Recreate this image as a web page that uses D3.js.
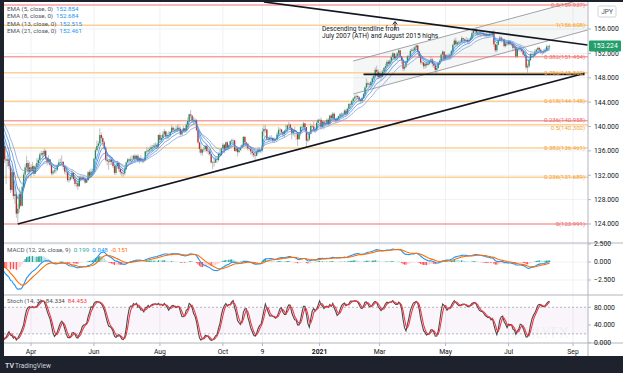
<!DOCTYPE html>
<html lang="en">
<head>
<meta charset="UTF-8">
<script src="https://d3js.org/d3.v7.min.js"></script>
<title>GBP/JPY daily</title>
<style>
  body { margin:0; background:#1e222d; }
  svg { display:block; font-family: Roboto, "Open Sans", sans-serif; }
</style>
</head>
<body>
<svg id="chart" width="623" height="373"></svg>
<script>
// daily bars, one per weekday starting here
const startDate = "2020-02-10";

const closes = [
  142.0,142.2,142.6,143.0,142.9, 142.7,142.3,143.5,144.6,144.7, 142.8,142.2,142.5,141.3,139.4,
  138.2,138.0,137.9,136.8,134.6, 134.4,134.6,133.5,129.6,132.5, 128.6,128.9,125.7,126.5,128.9,
  127.0,130.1,132.1,133.3,134.0, 132.6,133.3,132.7,133.5,132.3,
  133.3,134.0,134.5,135.4,135.6, 135.4,136.0,134.8,134.2,134.6, 133.7,132.3,132.6,132.8,132.9,
  133.6,134.1,134.1,134.2,133.4,
  132.6,132.5,131.2,131.3,131.7, 132.4,131.4,130.6,130.7,130.2, 131.6,131.4,131.6,131.4,130.8,
  131.2,132.5,131.8,132.6,132.6,
  134.7,136.1,136.8,137.2,138.6, 138.1,137.4,136.5,134.5,134.3, 134.2,134.6,134.2,133.5,132.4,
  133.5,134.0,133.0,132.5,132.3, 132.3,133.0,134.1,134.6,134.4,
  134.6,134.7,135.2,134.7,135.2, 134.4,134.8,134.4,134.4,134.4, 135.9,135.9,136.1,136.3,136.6,
  136.6,136.9,137.0,136.7,138.6,
  137.8,138.1,138.7,139.2,138.4, 138.6,138.6,139.1,139.8,139.4, 139.4,139.6,139.8,139.6,138.7,
  139.2,139.7,139.3,140.3,140.9, 142.0,141.8,141.0,141.0,141.0,
  139.4,137.4,136.3,135.7,136.2, 136.3,136.8,136.0,135.9,135.5, 134.1,134.2,134.1,134.6,134.5,
  135.5,135.3,136.4,137.0,136.2,
  137.4,136.5,136.9,137.6,137.7, 137.7,136.0,136.4,135.8,136.1, 136.5,136.9,138.3,137.4,137.2,
  136.4,136.3,135.9,135.6,135.3,
  135.2,135.8,136.2,136.0,136.1, 139.2,139.6,139.5,138.0,137.9, 138.1,138.1,137.7,137.8,137.9,
  138.7,139.4,139.5,139.1,138.8, 139.3,139.5,140.2,140.3,139.8,
  138.9,139.4,139.2,139.1,137.9, 138.8,139.9,139.9,140.5,139.9, 137.7,137.9,138.8,140.1,140.0,
  139.5,139.4,140.6,141.1,141.1,
  139.9,140.8,140.5,140.5,141.1, 140.4,141.8,141.4,142.1,141.2, 141.0,141.3,141.7,142.0,142.1,
  142.0,142.6,142.1,142.9,143.7,
  143.6,144.2,144.6,144.9,145.0, 144.8,144.4,144.2,144.7,145.3, 146.4,147.1,146.9,146.8,147.3,
  147.9,148.3,149.3,149.0,148.1,
  148.7,148.2,149.0,149.6,149.9, 150.6,150.3,150.8,151.4,152.0, 151.2,151.5,152.0,152.5,151.5,
  150.9,149.5,149.8,150.5,151.5, 151.5,152.4,152.6,152.5,153.0,
  153.3,152.3,151.5,150.5,150.5, 149.9,150.3,150.1,150.3,150.6, 151.0,150.3,150.0,149.3,149.6,
  150.4,150.8,151.8,152.3,151.1,
  151.7,151.6,151.6,151.8,152.4, 153.4,154.1,153.5,153.8,153.9, 153.9,154.5,154.3,154.1,154.2,
  154.0,154.2,154.5,155.3,155.7,
  155.9,155.4,155.3,155.4,155.3, 155.3,155.1,154.9,155.1,154.9, 155.2,155.1,155.5,153.5,152.5,
  153.4,154.1,154.6,154.2,154.3, 153.2,153.6,153.5,154.0,153.5,
  153.5,152.9,153.0,151.5,152.7, 152.8,152.7,152.4,151.8,151.6, 149.7,149.9,150.9,151.9,151.8,
  151.7,152.3,152.6,152.9,152.6,
  152.3,152.2,152.4,152.6,153.1, 153.2,153.224
];

const highs = [
  142.6,142.5,143.2,143.5,143.2, 143.2,142.9,143.8,144.9,145.0, 144.1,143.3,143.0,143.0,141.6,
  139.8,139.3,138.8,138.2,137.4, 135.2,135.9,134.9,133.7,133.3, 132.0,130.3,129.2,127.3,130.0,
  129.5,130.6,132.5,133.8,135.2, 134.5,134.2,133.8,134.2,133.6,
  133.8,134.8,134.9,135.7,136.0, 136.0,136.4,136.2,135.0,135.3, 134.6,133.8,132.9,133.3,133.2,
  133.9,134.6,134.8,135.3,134.3,
  133.5,133.0,132.6,131.8,132.0, 132.8,132.5,131.6,131.1,130.9, 131.9,132.0,131.9,131.9,131.5,
  131.4,132.7,132.9,133.1,133.1,
  134.9,136.5,137.7,137.6,139.7, 139.0,138.4,137.7,136.8,135.3, 134.6,135.1,135.0,134.2,133.6,
  133.8,134.4,134.1,133.2,133.0, 132.7,133.4,134.3,134.8,134.8,
  135.1,135.3,135.3,135.5,135.3, 135.5,135.0,135.3,134.9,134.9, 136.0,136.6,136.5,136.7,137.0,
  137.0,137.3,137.4,137.3,138.7,
  138.9,138.6,139.2,139.6,139.3, 139.0,139.2,139.3,140.3,140.0, 139.7,140.1,140.3,140.3,139.9,
  139.6,140.1,139.8,140.7,141.5, 142.1,142.7,141.8,141.6,141.4,
  141.2,139.7,137.5,137.4,136.3, 136.7,137.0,137.1,136.1,136.3, 135.5,134.3,135.1,135.0,135.1,
  135.7,136.1,136.5,137.3,137.1,
  137.5,137.6,137.1,137.7,138.0, 138.0,137.8,136.6,136.7,136.4, 136.9,137.1,138.4,138.4,137.5,
  137.0,136.6,136.7,136.1,135.9,
  135.8,136.0,136.6,136.6,136.4, 139.8,140.3,140.2,139.6,138.3, 138.5,138.6,138.3,138.2,138.0,
  139.1,139.9,139.8,139.6,139.3, 139.4,140.3,140.3,140.8,140.5,
  139.5,139.6,140.0,139.3,138.5, 139.0,140.1,140.2,140.8,140.6, 138.9,138.6,139.2,140.5,140.2,
  140.8,139.9,140.9,141.3,141.2,
  141.5,141.0,140.9,141.0,141.3, 141.4,141.9,142.1,142.4,142.3, 141.3,141.6,141.8,142.2,142.3,
  142.3,142.8,142.9,143.1,143.8,
  143.9,144.4,144.8,145.2,145.3, 145.2,145.0,144.6,144.9,145.5, 146.6,147.9,147.4,147.2,147.5,
  148.2,148.6,149.7,150.0,149.4,
  149.0,149.2,149.3,149.8,150.3, 150.9,150.9,151.0,151.7,152.2, 152.1,151.9,152.2,152.8,152.5,
  151.6,151.0,150.2,150.6,151.7, 151.8,152.7,152.9,153.0,153.2,
  153.4,153.3,152.4,151.6,150.8, 150.6,150.5,150.6,150.6,150.9, 151.5,151.2,150.5,150.3,149.9,
  150.5,151.0,152.0,152.5,152.3,
  151.9,151.9,151.9,152.1,152.6, 153.6,154.4,154.6,154.0,154.1, 154.2,154.8,154.6,154.4,154.7,
  154.5,154.5,154.8,155.6,156.0,
  156.1,156.1,155.8,155.8,155.7, 155.6,155.5,155.3,155.4,155.4, 155.4,155.5,155.7,155.8,153.6,
  153.7,154.2,154.9,154.8,154.5, 154.4,153.8,153.9,154.2,154.2,
  153.8,153.8,153.3,153.2,152.8, 153.0,153.3,152.9,152.6,152.0, 151.3,150.3,151.1,152.1,152.1,
  152.1,152.7,152.8,153.1,153.1,
  152.8,152.4,152.7,152.9,153.4, 153.3,153.4
];

const lows = [
  141.4,141.5,142.0,142.4,142.5, 142.4,141.9,142.4,143.3,144.0, 142.1,141.7,141.8,140.9,138.5,
  137.3,136.9,137.0,136.3,134.0, 130.6,133.4,133.0,129.1,129.3, 128.1,127.3,125.0,124.0,125.9,
  126.8,126.9,129.9,131.4,132.5, 131.5,132.1,131.6,132.3,131.9,
  132.2,132.9,133.6,134.3,135.1, 134.5,135.1,134.5,133.6,133.8, 133.4,132.0,132.0,132.3,132.3,
  132.7,133.5,133.6,133.5,132.9,
  132.2,132.0,130.9,130.8,131.1, 131.4,131.1,130.2,130.0,129.6, 130.1,131.0,131.1,131.0,130.6,
  130.8,131.1,131.4,131.6,132.1,
  132.6,134.5,135.9,136.5,136.9, 137.4,136.8,136.2,134.3,133.6, 132.9,133.7,133.7,133.2,132.1,
  132.1,133.1,132.5,132.1,131.8, 131.8,132.0,132.8,133.9,134.0,
  134.2,134.2,134.6,134.5,134.4, 134.2,133.9,134.2,134.0,134.0, 134.4,135.4,135.5,135.8,136.0,
  135.9,136.5,136.4,136.3,136.5,
  137.3,137.3,137.9,138.5,137.9, 137.9,138.0,138.3,139.0,139.1, 139.0,139.2,139.1,139.3,138.5,
  138.6,139.1,139.0,139.0,139.3, 140.8,141.3,140.6,140.3,140.4,
  139.2,137.2,135.7,135.3,135.2, 135.8,135.9,135.7,135.3,135.2, 133.9,133.0,133.4,134.0,134.0,
  134.3,135.2,135.2,136.2,135.6,
  136.2,136.2,136.3,136.9,137.2, 137.3,135.9,135.8,135.1,135.6, 136.1,136.5,136.6,137.1,136.5,
  136.1,136.1,135.4,135.1,134.9,
  134.5,135.1,135.4,135.7,135.6, 135.8,138.4,139.0,137.7,137.5, 137.7,137.7,137.4,137.3,137.6,
  137.8,138.5,139.0,138.8,138.3, 138.2,139.0,139.1,139.7,139.4,
  137.9,138.5,138.3,137.8,136.8, 138.0,138.5,139.4,139.8,139.2, 136.7,137.4,137.6,138.7,139.8,
  139.3,138.9,139.2,140.5,140.9,
  139.5,139.7,139.5,140.1,140.3, 140.1,140.3,141.1,141.2,141.0, 140.6,140.7,141.0,141.6,141.5,
  141.6,142.0,141.8,142.0,142.9,
  143.0,143.5,144.0,144.3,144.5, 144.5,144.1,143.9,144.0,144.5, 145.2,146.2,146.5,146.3,146.6,
  146.9,147.6,148.1,148.6,147.8,
  147.9,147.6,148.1,148.6,149.0, 149.6,149.9,150.1,150.6,151.1, 150.9,150.9,150.8,151.5,151.2,
  150.3,149.1,149.2,149.6,150.4, 150.9,151.4,152.1,152.1,152.4,
  152.6,152.0,151.2,150.2,150.1, 149.5,149.5,149.7,149.9,150.1, 150.4,149.8,149.6,148.8,148.6,
  149.5,150.1,150.6,151.6,150.9,
  151.0,151.2,151.3,151.0,151.5, 152.3,153.1,153.2,153.2,153.4, 153.4,153.7,153.7,153.6,153.8,
  153.6,153.5,154.0,154.3,154.9,
  155.4,155.0,154.8,154.9,154.7, 154.9,154.8,154.6,154.6,154.5, 154.7,154.8,154.7,153.1,152.2,
  152.2,153.3,154.0,153.8,153.8, 153.0,153.0,153.3,153.4,153.3,
  153.2,152.3,152.5,151.2,151.3, 152.3,152.2,152.1,151.6,151.3, 149.4,148.8,149.6,150.7,151.4,
  151.2,151.5,151.9,152.4,152.4,
  151.9,151.7,151.9,152.1,152.4, 152.8,152.8
];

// Fibonacci levels (price, label, colour set)
const fibPrices = [159.937, 156.608, 151.454, 148.830, 144.148, 140.958, 140.300, 136.461, 131.689, 123.991];
const fibLabels = ["0.5(159.937)", "1(156.608)", "0.382(151.454)", "0.786(148.830)", "0.618(144.148)",
                   "0.236(140.958)", "0.5(140.300)", "0.382(136.461)", "0.236(131.689)", "0(123.991)"];
const fibSets = ["red", "orange", "red", "orange", "orange", "red", "orange", "orange", "orange", "red"];
const fibLabelDy = [2.2, 2.2, 2.2, 2.2, 2.2, 1.2, 5.6, 2.2, 2.2, 2.2];

// drawn lines: [date, price] pairs
const trendUp = [["2020-03-19", 124.0], ["2021-09-13", 148.75]];
const trendDown = [["2020-11-10", 160.45], ["2021-09-15", 153.37]];
const supportLine = [["2021-02-12", 148.55], ["2021-09-13", 148.55]];
const channelUpper = [["2021-02-03", 150.75], ["2021-09-15", 161.1]];
const channelLower = [["2021-02-03", 145.33], ["2021-09-15", 155.84]];

// axes
const priceTicks = [124, 128, 132, 136, 140, 144, 148, 152, 156];
const macdTicks = [2.5, 0, -2.5];
const stochTicks = [80, 40, 0];
const timeTickDates = ["2020-04-01", "2020-06-01", "2020-08-03", "2020-10-01", "2020-11-09",
                       "2021-01-01", "2021-03-01", "2021-05-03", "2021-07-01", "2021-09-01"];
const timeTickLabels = ["Apr", "Jun", "Aug", "Oct", "9", "2021", "Mar", "May", "Jul", "Sep"];

// legend texts as shown on the chart
const emaPeriods = [5, 8, 13, 21];
const emaValues = ["152.854", "152.684", "152.515", "152.461"];
const emaColors = ["#2196f3", "#3f7fdc", "#5b8fd8", "#7fa3dc"];
const macdValues = ["0.199", "0.048", "-0.151"];
const stochValues = ["84.334", "84.453"];
const lastPrice = "153.224";

// ---------- layout ----------
const svg = d3.select("svg#chart");
const W = 623, H = 373;
const L = 4, R = 588, T = 2;
const mainBot = 243, macdBot = 295, stochBot = 343, axisBot = 356;

svg.append("rect").attr("width", W).attr("height", H).attr("fill", "#1e222d");
svg.append("rect").attr("x", L).attr("y", T).attr("width", W - L).attr("height", axisBot - T).attr("fill", "#fff");

// trading calendar (weekdays)
const parseDate = d3.timeParse("%Y-%m-%d");
const days = d3.timeDay.range(parseDate(startDate), parseDate("2021-10-01"))
  .filter(d => d.getDay() !== 0 && d.getDay() !== 6);
const dayIndex = s => { const t = parseDate(s); return days.findIndex(d => d >= t); };

const x = d3.scaleLinear()
  .domain([dayIndex("2020-04-01"), dayIndex("2021-09-01")])
  .range([31, 573]);
const y = d3.scaleLinear().domain([124, 156]).range([224, 29]);
const yM = d3.scaleLinear().domain([-2.5, 2.5]).range([280, 244]);
const yS = d3.scaleLinear().domain([0, 80]).range([342.7, 307.3]);

// indicators
function ema(values, n) {
  const k = 2 / (n + 1);
  let prev;
  return values.map((v, i) => prev = (i === 0 ? v : v * k + prev * (1 - k)));
}
const sma = (arr, n) => arr.map((v, i) => d3.mean(arr.slice(Math.max(0, i - n + 1), i + 1)));

const opens = closes.map((c, i) => i === 0 ? c : closes[i - 1]);
const bars = closes.map((c, i) => ({
  i, o: opens[i], c,
  h: Math.max(highs[i], c, opens[i]),
  l: Math.min(lows[i], c, opens[i])
}));

const emas = emaPeriods.map(n => ema(closes, n));
const macdLine = d3.zip(ema(closes, 12), ema(closes, 26)).map(([a, b]) => a - b);
const signal = ema(macdLine, 9);
const hist = macdLine.map((m, i) => m - signal[i]);
const rawK = closes.map((c, i) => {
  const s = Math.max(0, i - 13);
  const hh = d3.max(bars.slice(s, i + 1), d => d.h);
  const ll = d3.min(bars.slice(s, i + 1), d => d.l);
  return 100 * (c - ll) / (hh - ll);
});
const stochK = sma(rawK, 3);
const stochD = sma(stochK, 3);

// clips
const defs = svg.append("defs");
[["clipMain", T, mainBot], ["clipMacd", mainBot, macdBot], ["clipStoch", macdBot, stochBot]].forEach(([id, a, b]) => {
  defs.append("clipPath").attr("id", id).append("rect")
    .attr("x", L).attr("y", a).attr("width", R - L).attr("height", b - a);
});

// grid
const gridColor = "#eff1f5";
const timeIdx = timeTickDates.map(dayIndex);
svg.append("g").selectAll("line").data(timeIdx).join("line")
  .attr("x1", d => x(d)).attr("x2", d => x(d)).attr("y1", T).attr("y2", stochBot)
  .attr("stroke", gridColor);
svg.append("g").selectAll("line").data(priceTicks).join("line")
  .attr("x1", L).attr("x2", R).attr("y1", d => y(d)).attr("y2", d => y(d)).attr("stroke", gridColor);
svg.append("g").selectAll("line").data(macdTicks).join("line")
  .attr("x1", L).attr("x2", R).attr("y1", d => yM(d)).attr("y2", d => yM(d)).attr("stroke", gridColor);

// ---------- main pane ----------
const main = svg.append("g").attr("clip-path", "url(#clipMain)");
const pt = ([d, p]) => [x(dayIndex(d)), y(p)];

// channel fill + lines
const cu = channelUpper.map(pt), cl = channelLower.map(pt);
main.append("path").attr("d", d3.line()([cu[0], cu[1], cl[1], cl[0]]))
  .attr("fill", "#787b86").attr("fill-opacity", 0.07);

// fib levels
const fibColor = { red: "#f7a1a1", orange: "#fdd193" };
const fibText = { red: "#ef6c6c", orange: "#f3a43b" };
main.append("g").selectAll("line").data(fibPrices).join("line")
  .attr("x1", L).attr("x2", R).attr("y1", d => y(d)).attr("y2", d => y(d))
  .attr("stroke", (d, i) => fibColor[fibSets[i]]).attr("stroke-width", 1.5);

[cu, cl].forEach(p => main.append("line")
  .attr("x1", p[0][0]).attr("y1", p[0][1]).attr("x2", p[1][0]).attr("y2", p[1][1])
  .attr("stroke", "#8a8d96").attr("stroke-width", 0.8));

// candles
const visible = bars.filter(b => x(b.i) > L - 2);
const candles = main.append("g");
candles.selectAll("line").data(visible).join("line")
  .attr("x1", d => x(d.i)).attr("x2", d => x(d.i))
  .attr("y1", d => y(d.h)).attr("y2", d => y(d.l))
  .attr("stroke", "#a3a6ad").attr("stroke-width", 0.7);
candles.selectAll("rect").data(visible).join("rect")
  .attr("x", d => x(d.i) - 0.65).attr("width", 1.3)
  .attr("y", d => y(Math.max(d.o, d.c)))
  .attr("height", d => Math.max(0.6, Math.abs(y(d.o) - y(d.c))))
  .attr("fill", d => d.c >= d.o ? "#2b8a57" : "#b8322c");

// EMA ribbon
emas.forEach((e, k) => {
  main.append("path")
    .attr("d", d3.line().x((d, i) => x(i)).y(d => y(d))(e))
    .attr("fill", "none").attr("stroke", emaColors[k]).attr("stroke-width", 0.8);
});

// trend lines
[trendUp, trendDown].forEach(t => {
  const p = t.map(pt);
  main.append("line").attr("x1", p[0][0]).attr("y1", p[0][1]).attr("x2", p[1][0]).attr("y2", p[1][1])
    .attr("stroke", "#131722").attr("stroke-width", 1.6);
});
const sp = supportLine.map(pt);
main.append("line").attr("x1", sp[0][0]).attr("y1", sp[0][1]).attr("x2", sp[1][0]).attr("y2", sp[1][1])
  .attr("stroke", "#131722").attr("stroke-width", 1.6);

// fib labels
main.append("g").selectAll("text").data(fibPrices).join("text")
  .attr("x", 585).attr("y", (d, i) => y(d) + fibLabelDy[i])
  .attr("text-anchor", "end").attr("font-size", 6)
  .attr("fill", (d, i) => fibText[fibSets[i]])
  .text((d, i) => fibLabels[i]);

// annotation
const note = main.append("g").attr("font-size", 6.6).attr("fill", "#131722");
note.append("text").attr("x", 322).attr("y", 31).text("Descending trendline from");
note.append("text").attr("x", 322).attr("y", 38).text("July 2007 (ATH) and August 2015 highs");
note.append("path").attr("d", "M395,30 V22 M392.8,24.5 L395,21.5 L397.2,24.5")
  .attr("stroke", "#131722").attr("stroke-width", 0.9).attr("fill", "none");

// legend
const leg = svg.append("g").attr("font-size", 6.2);
emaPeriods.forEach((n, k) => {
  const t = leg.append("text").attr("x", 7).attr("y", 10.5 + k * 7.5).attr("fill", "#50535e");
  t.append("tspan").text(`EMA (${n}, close, 0)`);
  t.append("tspan").attr("dx", 3).attr("fill", emaColors[0]).text(emaValues[k]);
});

// ---------- MACD pane ----------
const macdG = svg.append("g").attr("clip-path", "url(#clipMacd)");
const histColor = (h, i) => {
  const prev = i > 0 ? hist[i - 1] : h;
  if (h >= 0) return h >= prev ? "#26a69a" : "#b2dfdb";
  return h < prev ? "#ff5252" : "#ffcdd2";
};
const visIdx = d3.range(closes.length).filter(i => x(i) > L - 2);
macdG.selectAll("rect").data(visIdx).join("rect")
  .attr("x", i => x(i) - 0.6).attr("width", 1.2)
  .attr("y", i => Math.min(yM(0), yM(hist[i])))
  .attr("height", i => Math.abs(yM(hist[i]) - yM(0)))
  .attr("fill", i => histColor(hist[i], i));
macdG.append("path").attr("d", d3.line().x((d, i) => x(i)).y(d => yM(d))(macdLine))
  .attr("fill", "none").attr("stroke", "#2196f3").attr("stroke-width", 1.1);
macdG.append("path").attr("d", d3.line().x((d, i) => x(i)).y(d => yM(d))(signal))
  .attr("fill", "none").attr("stroke", "#ff6d00").attr("stroke-width", 1.1);

const mt = svg.append("text").attr("x", 7).attr("y", 251.5).attr("font-size", 6.2).attr("fill", "#50535e");
mt.append("tspan").text("MACD (12, 26, close, 9)");
mt.append("tspan").attr("dx", 3).attr("fill", "#26a69a").text(macdValues[0]);
mt.append("tspan").attr("dx", 3).attr("fill", "#2196f3").text(macdValues[1]);
mt.append("tspan").attr("dx", 3).attr("fill", "#ff6d00").text(macdValues[2]);

// ---------- Stoch pane ----------
const stG = svg.append("g").attr("clip-path", "url(#clipStoch)");
stG.append("rect").attr("x", L).attr("width", R - L)
  .attr("y", yS(80)).attr("height", yS(20) - yS(80))
  .attr("fill", "#9c27b0").attr("fill-opacity", 0.05);
[80, 20].forEach(v => stG.append("line").attr("x1", L).attr("x2", R)
  .attr("y1", yS(v)).attr("y2", yS(v))
  .attr("stroke", "#9598a1").attr("stroke-dasharray", "2,2").attr("stroke-width", 0.7));
stG.append("text").attr("x", 540).attr("y", 338).attr("text-anchor", "middle")
  .attr("font-size", 15).attr("font-weight", "bold").attr("fill", "#000").attr("fill-opacity", 0.035)
  .text("DAILYFX");
stG.append("path").attr("d", d3.line().x((d, i) => x(i)).y(d => yS(d))(stochK))
  .attr("fill", "none").attr("stroke", "#4a4a4a").attr("stroke-width", 1.1);
stG.append("path").attr("d", d3.line().x((d, i) => x(i)).y(d => yS(d))(stochD))
  .attr("fill", "none").attr("stroke", "#f23645").attr("stroke-width", 1.1);

const stt = svg.append("text").attr("x", 7).attr("y", 302.5).attr("font-size", 6.2).attr("fill", "#50535e");
stt.append("tspan").text("Stoch (14, 3)");
stt.append("tspan").attr("dx", 4).attr("fill", "#4a4a4a").text(stochValues[0]);
stt.append("tspan").attr("dx", 3).attr("fill", "#f23645").text(stochValues[1]);

// ---------- separators and axes ----------
const sepColor = "#b2b5be";
[mainBot, macdBot, stochBot].forEach(v => svg.append("line")
  .attr("x1", L).attr("x2", W).attr("y1", v).attr("y2", v).attr("stroke", sepColor));
svg.append("line").attr("x1", R).attr("x2", R).attr("y1", T).attr("y2", axisBot).attr("stroke", sepColor);

const axisFont = 6.8, axisColor = "#131722";
const rightAxis = (scale, ticks, fmt, top, bot) => {
  const g = svg.append("g");
  const shown = ticks.filter(t => scale(t) > top - 1 && scale(t) < bot + 1);
  g.selectAll("line").data(shown).join("line")
    .attr("x1", R).attr("x2", R + 3).attr("y1", d => scale(d)).attr("y2", d => scale(d)).attr("stroke", sepColor);
  g.selectAll("text").data(shown).join("text")
    .attr("x", R + 6).attr("y", d => scale(d) + 2.4)
    .attr("font-size", axisFont).attr("fill", axisColor).text(fmt);
};
rightAxis(y, priceTicks, d3.format(".3f"), T, mainBot);
rightAxis(yM, macdTicks, d3.format(".3f"), mainBot, macdBot);
rightAxis(yS, stochTicks, d3.format(".3f"), macdBot, stochBot);

// time axis
const tg = svg.append("g");
tg.selectAll("line").data(timeIdx).join("line")
  .attr("x1", d => x(d)).attr("x2", d => x(d)).attr("y1", stochBot).attr("y2", stochBot + 3).attr("stroke", sepColor);
tg.selectAll("text").data(timeIdx).join("text")
  .attr("x", d => x(d)).attr("y", stochBot + 10.5).attr("text-anchor", "middle")
  .attr("font-size", axisFont).attr("fill", axisColor)
  .attr("font-weight", (d, i) => timeTickLabels[i] === "2021" ? "bold" : "normal")
  .text((d, i) => timeTickLabels[i]);

// last price tag
const lastY = y(closes[closes.length - 1]);
svg.append("rect").attr("x", R + 1).attr("y", lastY - 5.5).attr("width", 32).attr("height", 11)
  .attr("fill", "#22a06b").attr("rx", 1);
svg.append("text").attr("x", R + 5).attr("y", lastY + 2.5).attr("font-size", axisFont)
  .attr("fill", "#fff").text(lastPrice);

// currency box
svg.append("rect").attr("x", 598).attr("y", 6).attr("width", 18).attr("height", 11)
  .attr("fill", "#fff").attr("stroke", "#d1d4dc").attr("rx", 1.5);
svg.append("text").attr("x", 607).attr("y", 14).attr("text-anchor", "middle")
  .attr("font-size", 6.5).attr("fill", "#50535e").text("JPY");

// footer
const foot = svg.append("g").attr("fill", "#d1d4dc");
foot.append("text").attr("x", 5).attr("y", 367.5).attr("font-size", 7).attr("font-weight", "bold").text("TV");
foot.append("text").attr("x", 15).attr("y", 367.5).attr("font-size", 6.5).text("TradingView");
</script>
</body>
</html>
